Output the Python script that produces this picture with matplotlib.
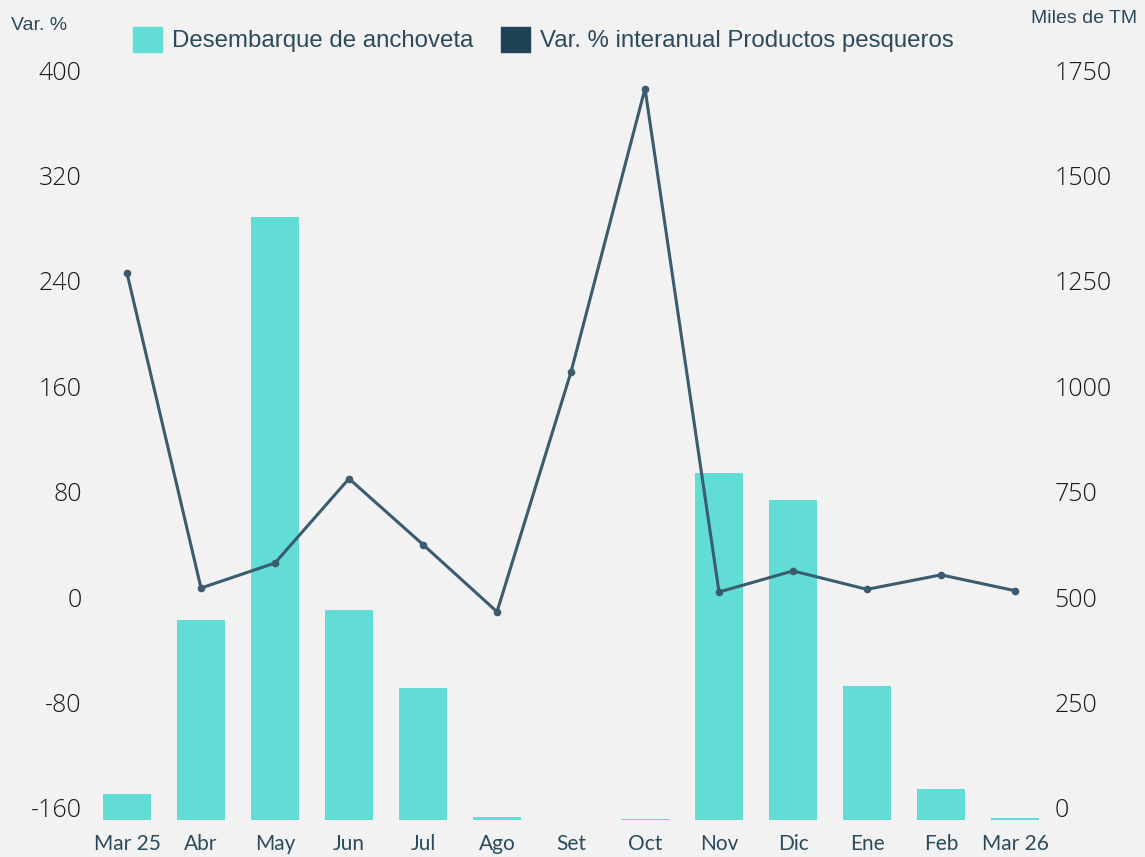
import numpy as np
import matplotlib.pyplot as plt
import matplotlib.transforms as mtransforms
from matplotlib.patches import Patch

plt.rcParams['axes.unicode_minus'] = False

# Data
meses = ['Mar 25', 'Abr', 'May', 'Jun', 'Jul', 'Ago', 'Set', 'Oct', 'Nov', 'Dic', 'Ene', 'Feb', 'Mar 26']
desembarque = [61, 475, 1431, 499, 314, 7, 0, 2, 823, 759, 317, 73, 5]   # miles de TM
var_pesqueros = [255, 16, 35, 99, 49, -2, 180, 395, 13, 29, 15, 26, 14]  # var. % interanual

left_ticks = [-160, -80, 0, 80, 160, 240, 320, 400]
right_ticks = [0, 250, 500, 750, 1000, 1250, 1500, 1750]

bg = '#f2f2f2'
bar_color = '#62ddd6'
line_color = '#3a5c6e'
text_color = '#2b4a5c'
sans = dict(family='Liberation Sans', stretch='normal', weight='normal')

fig = plt.figure(figsize=(11.45, 8.57), dpi=100, facecolor=bg)
ax = fig.add_axes([0.0786, 0.0432, 0.8402, 0.8611])
ax2 = ax.twinx()
ax.set_zorder(ax2.get_zorder() + 1)
ax.patch.set_visible(False)
ax2.set_facecolor(bg)

x = np.arange(len(meses))
ax2.bar(x, desembarque, width=0.66, color=bar_color)
ax.plot(x, var_pesqueros, color=line_color, lw=2.2, marker='o', ms=4.5)

ax.set_xlim(-0.5, len(meses) - 0.5)
ax.set_ylim(-160, 400)
ax2.set_ylim(0, 1750)
ax.set_yticks(left_ticks)
ax2.set_yticks(right_ticks)
ax.set_xticks(x)
ax.set_xticklabels(meses, fontsize=15, color=text_color, family='Lato')

for a in (ax, ax2):
    for s in a.spines.values():
        s.set_visible(False)
    a.tick_params(length=0)

ax.tick_params(axis='y', pad=6, labelsize=18)
ax2.tick_params(axis='y', pad=2, labelsize=18)
ax.tick_params(axis='x', pad=10)
# labels sit slightly above their tick positions
off = mtransforms.ScaledTranslation(0, 12 / 100, fig.dpi_scale_trans)
for lab in ax.get_yticklabels() + ax2.get_yticklabels():
    lab.set_family('Open Sans')
    lab.set_fontweight('light')
    lab.set_color('#1a1a1a')
    lab.set_transform(lab.get_transform() + off)

fig.text(0.0096, 0.970, 'Var. %', fontsize=14, color=text_color, va='center', **sans)
fig.text(0.993, 0.978, 'Miles de TM', fontsize=14, color=text_color, va='center', ha='right', **sans)

handles = [Patch(color=bar_color, label='Desembarque de anchoveta'),
           Patch(color='#1f4256', label='Var. % interanual Productos pesqueros')]
fig.legend(handles=handles, loc='center left', bbox_to_anchor=(0.097, 0.954), ncol=2, frameon=False,
           prop=dict(size=17.3, **sans), labelcolor=text_color,
           handlelength=1.22, handleheight=1.22, handletextpad=0.4, columnspacing=1.15)

fig.savefig('out.png', dpi=100, facecolor=bg)
